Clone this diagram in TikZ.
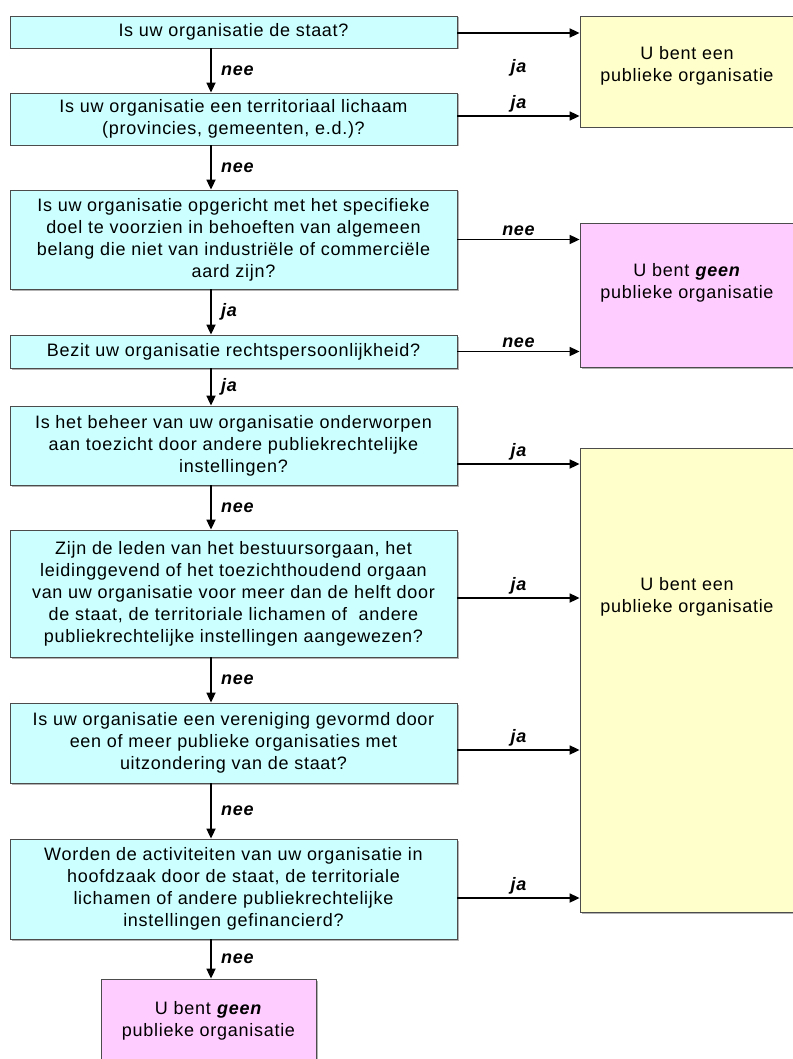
\documentclass[tikz,border=0pt]{standalone}
\usepackage{fontspec}
\setmainfont[LetterSpace=4]{Liberation Sans}
\usetikzlibrary{arrows.meta,shadows}
\definecolor{askcyan}{HTML}{CCFFFF}
\definecolor{yesyellow}{HTML}{FFFFCC}
\definecolor{nopink}{HTML}{FFCCFF}

\begin{document}
\begin{tikzpicture}[x=1pt,y=-1pt,
  question/.style={draw=black!70, fill=askcyan, line width=0.8pt, align=center,
    minimum width=447pt, inner sep=0pt, font=\fontsize{18}{22}\selectfont,
    drop shadow={shadow xshift=1.5pt,shadow yshift=-1.5pt,fill=black!30,opacity=1}},
  outcome/.style={draw=black!70, line width=0.8pt, inner sep=0pt,
    drop shadow={shadow xshift=1.5pt,shadow yshift=-1.5pt,fill=black!30,opacity=1}},
  outcome text/.style={align=center, font=\fontsize{18}{22}\selectfont},
  answer/.style={font=\fontsize{18}{18}\selectfont\bfseries\itshape},
  flow/.style={line width=1.7pt, -{Triangle[length=10pt,width=9pt]}}]
\useasboundingbox (0,0) rectangle (792,1059);

\coordinate (spine) at (211,0);

\node[question, minimum height=32pt] (q1) at (233.5,32) {Is uw organisatie de staat?};
\node[question, minimum height=52pt] (q2) at (233.5,119) {Is uw organisatie een territoriaal lichaam\\(provincies, gemeenten, e.d.)?};
\node[question, minimum height=99pt] (q3) at (233.5,239.5) {Is uw organisatie opgericht met het specifieke\\doel te voorzien in behoeften van algemeen\\belang die niet van industriële of commerciële\\aard zijn?};
\node[question, minimum height=33pt] (q4) at (233.5,351.5) {Bezit uw organisatie rechtspersoonlijkheid?};
\node[question, minimum height=79pt] (q5) at (233.5,445.5) {Is het beheer van uw organisatie onderworpen\\aan toezicht door andere publiekrechtelijke\\instellingen?};
\node[question, minimum height=127pt] (q6) at (233.5,593.5) {Zijn de leden van het bestuursorgaan, het\\leidinggevend of het toezichthoudend orgaan\\van uw organisatie voor meer dan de helft door\\de staat, de territoriale lichamen of \ andere\\publiekrechtelijke instellingen aangewezen?};
\node[question, minimum height=80pt] (q7) at (233.5,743) {Is uw organisatie een vereniging gevormd door\\een of meer publieke organisaties met\\uitzondering van de staat?};
\node[question, minimum height=100pt] (q8) at (233.5,889) {Worden de activiteiten van uw organisatie in\\hoofdzaak door de staat, de territoriale\\lichamen of andere publiekrechtelijke\\instellingen gefinancierd?};
\node[outcome, fill=nopink, minimum width=215pt, minimum height=84pt, outcome text] (notpub) at (208.5,1021) {U bent \textbf{\textit{geen}}\\publieke organisatie};

\node[outcome, fill=yesyellow, minimum width=214pt, minimum height=111pt,
  label={[outcome text, yshift=6pt]center:{U bent een\\publieke organisatie}}] (pubA) at (687,71.5) {};
\node[outcome, fill=nopink, minimum width=214pt, minimum height=144pt,
  label={[outcome text, yshift=12.5pt]center:{U bent \textbf{\textit{geen}}\\publieke organisatie}}] (pubB) at (687,295) {};
\node[outcome, fill=yesyellow, minimum width=214pt, minimum height=464pt,
  label={[outcome text, yshift=83.5pt]center:{U bent een\\publieke organisatie}}] (pubC) at (687,680) {};

\draw[flow] (q1.south -| spine) -- node[answer, right=6pt] {nee} (q2.north -| spine);
\draw[flow] (q2.south -| spine) -- node[answer, right=6pt] {nee} (q3.north -| spine);
\draw[flow] (q3.south -| spine) -- node[answer, right=6pt] {ja} (q4.north -| spine);
\draw[flow] (q4.south -| spine) -- node[answer, right=6pt] {ja} (q5.north -| spine);
\draw[flow] (q5.south -| spine) -- node[answer, right=6pt] {nee} (q6.north -| spine);
\draw[flow] (q6.south -| spine) -- node[answer, right=6pt] {nee} (q7.north -| spine);
\draw[flow] (q7.south -| spine) -- node[answer, right=6pt] {nee} (q8.north -| spine);
\draw[flow] (q8.south -| spine) -- node[answer, right=6pt] {nee} (notpub.north -| spine);

\draw[flow] ([yshift=-1pt]q1.east) -- node[answer, below=22pt] {ja} ([yshift=-1pt]q1.east -| pubA.west);
\draw[flow] ([yshift=3pt]q2.east) -- node[answer, above] {ja} ([yshift=3pt]q2.east -| pubA.west);
\draw[flow] (q3.east) -- node[answer, above] {nee} (q3.east -| pubB.west);
\draw[flow] (q4.east) -- node[answer, above] {nee} (q4.east -| pubB.west);
\draw[flow] ([yshift=-18.5pt]q5.east) -- node[answer, above] {ja} ([yshift=-18.5pt]q5.east -| pubC.west);
\draw[flow] ([yshift=-4.5pt]q6.east) -- node[answer, above] {ja} ([yshift=-4.5pt]q6.east -| pubC.west);
\draw[flow] ([yshift=-7pt]q7.east) -- node[answer, above] {ja} ([yshift=-7pt]q7.east -| pubC.west);
\draw[flow] ([yshift=-9pt]q8.east) -- node[answer, above] {ja} ([yshift=-9pt]q8.east -| pubC.west);
\end{tikzpicture}
\end{document}
